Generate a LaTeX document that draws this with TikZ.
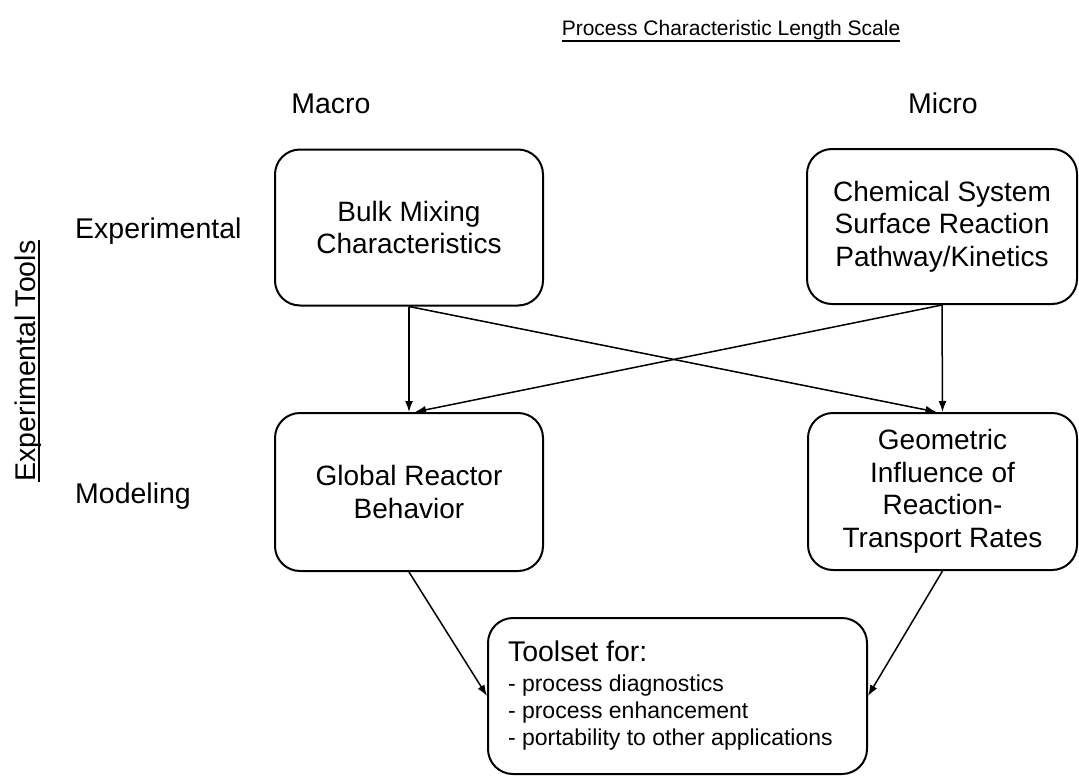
\documentclass[tikz,border=0pt]{standalone}
\usepackage{fontspec}
\setmainfont{Liberation Sans}
\usetikzlibrary{arrows.meta}
\newcommand\lblfont{\fontsize{28.5}{34}\selectfont}
\newcommand\boxfont{\fontsize{28}{32.5}\selectfont}
\newcommand\hdrfont{\fontsize{21}{25}\selectfont}
\newcommand\listfont{\fontsize{23}{27}\selectfont}
\tikzset{
  box/.style={draw, line width=2pt, rounded corners=25pt, align=center, font=\boxfont, inner sep=0pt},
  conn/.style={-{Latex[length=11pt,width=8pt]}, line width=1.5pt},
  lbl/.style={inner sep=0pt, font=\lblfont},
  hdr/.style={inner sep=0pt, font=\hdrfont},
  uline/.style={line width=1.3pt}
}
\begin{document}
\begin{tikzpicture}[x=1pt,y=-1pt]
\useasboundingbox (0,0) rectangle (1079,776);
% headers
\node[hdr, anchor=base] (hdr) at (731,36) {Process Characteristic Length Scale};
\draw[uline] ([yshift=-5pt]hdr.base west) -- ([yshift=-5pt]hdr.base east);
\node[lbl, anchor=base] (macro) at (331,113) {Macro};
\node[lbl, anchor=base] (micro) at (943,113) {Micro};
\node[lbl, anchor=base west] (exp) at (75,238) {Experimental};
\node[lbl, anchor=base west] (mod) at (75,503) {Modeling};
\node[lbl, rotate=90, anchor=base] (vt) at (35,361) {Experimental Tools};
\draw[uline] ([xshift=4pt]vt.base west) -- ([xshift=4pt]vt.base east);
% boxes
\node[box, minimum width=268pt, minimum height=156pt] (bulk) at (409,227.5) {Bulk Mixing\\Characteristics};
\node[box, minimum width=270pt, minimum height=155pt] (chem) at (942,226.5) {Chemical System\\Surface Reaction\\Pathway/Kinetics};
\node[box, minimum width=268pt, minimum height=158pt] (global) at (409,492) {Global Reactor\\Behavior};
\node[box, minimum width=269pt, minimum height=157pt] (geo) at (942.5,491.5) {Geometric\\Influence of\\Reaction-\\Transport Rates};
\node[box, inner xsep=20pt, inner ysep=0pt, minimum width=379pt, minimum height=156pt] (tool) at (677.5,696)
  {\parbox{339pt}{\raggedright\lblfont Toolset for:\par\vspace{3pt}\listfont\baselineskip=27pt
   - process diagnostics\par - process enhancement\par - portability to other applications\par}};
% connectors
\draw[conn] (bulk.south) -- (global.north);
\draw[conn] (chem.south) -- (geo.north);
\draw[conn] (bulk.south) -- ([xshift=-6pt]geo.north);
\draw[conn] (chem.south) -- ([xshift=6pt]global.north);
\draw[conn] (global.south) -- (tool.west);
\draw[conn] (geo.south) -- (tool.east);
\end{tikzpicture}
\end{document}
